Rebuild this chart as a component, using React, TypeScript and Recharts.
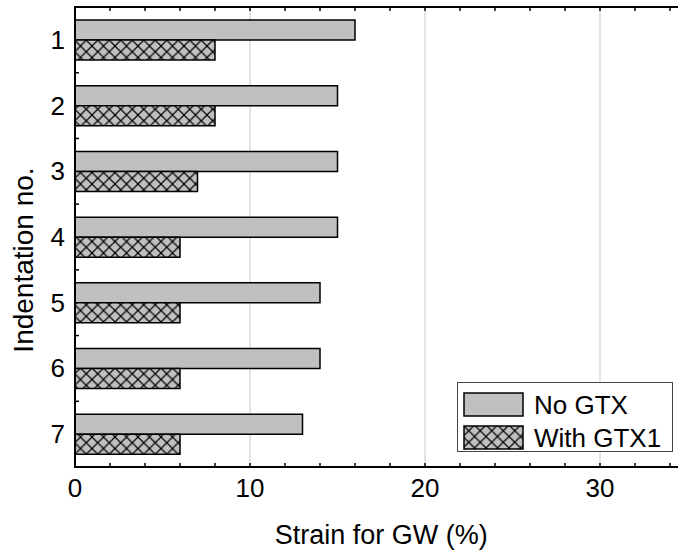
import React from "react";
import {
  Bar,
  BarChart,
  CartesianGrid,
  Legend,
  ReferenceArea,
  ReferenceLine,
  XAxis,
  YAxis,
} from "recharts";

const indentations = ["1", "2", "3", "4", "5", "6", "7"];
const noGtx = [16, 15, 15, 15, 14, 14, 13];
const withGtx1 = [8, 8, 7, 6, 6, 6, 6];
const strainTicks = [0, 10, 20, 30];
const minorTicks = [2, 4, 6, 8, 10, 12, 14, 16, 18, 20, 22, 24, 26, 28, 30, 32, 34];
const strainDomain = [0, 35];

const FONT = '"Liberation Sans", Arial, Helvetica, sans-serif';
const GRAY = "#c0c0c0";
const HATCH_ID = "xhatch";

const rows = indentations.map((name, i) => ({
  name,
  noGtx: noGtx[i],
  withGtx1: withGtx1[i],
}));

const series = [
  { key: "noGtx", label: "No GTX", fill: GRAY },
  { key: "withGtx1", label: "With GTX1", fill: `url(#${HATCH_ID})` },
];

// diagonal crosshatch on the grey fill
function HatchDefs() {
  return (
    <defs>
      <pattern id={HATCH_ID} width={11.5} height={11.5} patternUnits="userSpaceOnUse">
        <rect width={11.5} height={11.5} fill={GRAY} />
        <path d="M0,0 L11.5,11.5 M11.5,0 L0,11.5" stroke="#000" strokeWidth={1.2} />
      </pattern>
    </defs>
  );
}

// category label plus a small inward tick on each band boundary
function IndentTick(props: any) {
  const { x, y, payload, index } = props;
  const half = payload?.offset ?? 32.8;
  const axisX = x + 10;
  return (
    <g>
      <text
        x={x}
        y={y}
        textAnchor="end"
        dominantBaseline="central"
        fontFamily={FONT}
        fontSize={26}
        fill="#000"
      >
        {payload.value}
      </text>
      {index > 0 && (
        <line x1={axisX} x2={axisX + 4} y1={y - half} y2={y - half} stroke="#000" strokeWidth={1.5} />
      )}
    </g>
  );
}

// short minor ticks pointing into the plot from the top and bottom edges
function MinorTick(props: any) {
  const { x1, y1, y2 } = props;
  const top = Math.min(y1, y2);
  const bottom = Math.max(y1, y2);
  return (
    <g>
      <line x1={x1} x2={x1} y1={top} y2={top + 4} stroke="#000" strokeWidth={1.5} />
      <line x1={x1} x2={x1} y1={bottom} y2={bottom - 4} stroke="#000" strokeWidth={1.5} />
    </g>
  );
}

function LegendBox() {
  return (
    <div
      style={{
        border: "1px solid #444",
        background: "#fff",
        padding: "5px 0 0 5px",
        boxSizing: "border-box",
        width: 216,
        height: 70,
        fontFamily: FONT,
        fontSize: 26,
        color: "#000",
      }}
    >
      {series.map((s) => (
        <div key={s.key} style={{ display: "flex", alignItems: "center", height: 33 }}>
          <svg width={62} height={25} style={{ display: "block" }}>
            <rect x={1} y={1} width={59} height={23} fill={s.fill} stroke="#000" strokeWidth={1.5} />
          </svg>
          <span style={{ marginLeft: 9, lineHeight: "26px" }}>{s.label}</span>
        </div>
      ))}
    </div>
  );
}

export default function App() {
  return (
    <div
      style={{
        position: "fixed",
        left: 0,
        top: 0,
        width: 678,
        height: 556,
        overflow: "hidden",
        background: "#fff",
      }}
    >
      <BarChart
        width={690}
        height={556}
        layout="vertical"
        data={rows}
        margin={{ top: 7, right: 2.5, bottom: 0, left: 0 }}
        barSize={20}
        barGap={0}
      >
        <HatchDefs />
        <CartesianGrid horizontal={false} stroke="#c8c8c8" strokeWidth={1} />
        <XAxis
          type="number"
          domain={strainDomain}
          ticks={strainTicks}
          allowDataOverflow
          height={89}
          tickLine={false}
          tickSize={0}
          tickMargin={12}
          axisLine={{ stroke: "#000", strokeWidth: 2 }}
          tick={{ fontSize: 26, fill: "#000", fontFamily: FONT }}
          label={({ viewBox }: any) => (
            <text
              x={viewBox.x + viewBox.width / 2}
              y={viewBox.y + 77}
              textAnchor="middle"
              fontFamily={FONT}
              fontSize={27}
              fill="#000"
            >
              Strain for GW (%)
            </text>
          )}
        />
        <YAxis
          type="category"
          dataKey="name"
          width={75}
          tickLine={false}
          tickSize={0}
          tickMargin={10}
          axisLine={{ stroke: "#000", strokeWidth: 2 }}
          tick={<IndentTick />}
          label={({ viewBox }: any) => {
            const cx = 33;
            const cy = viewBox.y + viewBox.height / 2 + 23;
            return (
              <text
                x={cx}
                y={cy}
                transform={`rotate(-90, ${cx}, ${cy})`}
                textAnchor="middle"
                fontFamily={FONT}
                fontSize={28}
                fill="#000"
              >
                Indentation no.
              </text>
            );
          }}
        />
        {minorTicks.map((t) => (
          <ReferenceLine key={t} x={t} stroke="#000" shape={MinorTick} />
        ))}
        <ReferenceArea
          x1={strainDomain[0]}
          x2={strainDomain[1]}
          fill="none"
          fillOpacity={0}
          stroke="#000"
          strokeWidth={2}
        />
        {series.map((s) => (
          <Bar
            key={s.key}
            dataKey={s.key}
            name={s.label}
            fill={s.fill}
            stroke="#000"
            strokeWidth={1.5}
            isAnimationActive={false}
          />
        ))}
        <Legend
          layout="vertical"
          align="center"
          verticalAlign="middle"
          content={() => <LegendBox />}
          wrapperStyle={{ left: 457, top: 382, width: 216, height: 70 }}
        />
      </BarChart>
    </div>
  );
}
